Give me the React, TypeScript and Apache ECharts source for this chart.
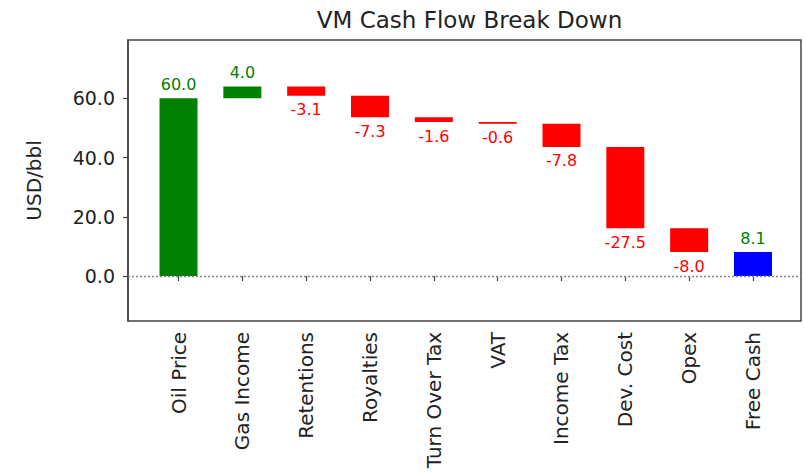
import React, { useEffect, useRef } from "react";
import * as echarts from "echarts";

const categories = [
  "Oil Price",
  "Gas Income",
  "Retentions",
  "Royalties",
  "Turn Over Tax",
  "VAT",
  "Income Tax",
  "Dev. Cost",
  "Opex",
  "Free Cash",
];
// first = starting value, middle = changes, last = resulting total
const values = [60.0, 4.0, -3.1, -7.3, -1.6, -0.6, -7.8, -27.5, -8.0, 8.1];
const yTicks = [0, 20, 40, 60];
const yMin = -15.2;
const yMax = 79.7;

const FONT = "DejaVu Sans";
const GREEN = "#008000";
const RED = "#ff0000";
const BLUE = "#0000ff";

export default function App() {
  const ref = useRef<HTMLDivElement>(null);

  useEffect(() => {
    if (!ref.current) return;
    const chart = echarts.init(ref.current, null, { renderer: "svg" });

    const bases: number[] = [];
    const heights: any[] = [];
    let running = 0;
    values.forEach((v, i) => {
      const isLast = i === values.length - 1;
      let base: number;
      let color: string;
      if (i === 0) {
        base = 0;
        running = v;
        color = GREEN;
      } else if (isLast) {
        base = 0;
        color = BLUE;
      } else if (v >= 0) {
        base = running;
        running += v;
        color = GREEN;
      } else {
        running += v;
        base = running;
        color = RED;
      }
      bases.push(base);
      const positive = v >= 0;
      heights.push({
        value: Math.abs(v),
        itemStyle: { color },
        label: {
          show: true,
          position: positive ? "top" : "bottom",
          distance: 6,
          color: positive ? GREEN : RED,
          fontSize: 16,
          fontFamily: FONT,
          formatter: () => v.toFixed(1),
        },
      });
    });

    const option: any = {
      animation: false,
      backgroundColor: "#ffffff",
      title: {
        text: "VM Cash Flow Break Down",
        left: 464.5,
        top: 3,
        textAlign: "center",
        textStyle: {
          fontFamily: FONT,
          fontSize: 23,
          fontWeight: "normal",
          color: "#222",
        },
      },
      grid: [
        {
          left: 128,
          right: 4,
          top: 40,
          bottom: 154,
          show: true,
          borderColor: "#444",
          borderWidth: 1.5,
          backgroundColor: "transparent",
        },
        {
          left: 146.6,
          width: 638.3,
          top: 40,
          bottom: 154,
        },
      ],
      xAxis: [
        { type: "value", gridIndex: 0, min: 0, max: 1, show: false },
        {
          type: "category",
          gridIndex: 1,
          data: categories,
          axisLine: { show: false },
          axisTick: {
            show: true,
            alignWithLabel: true,
            length: 5,
            lineStyle: { color: "#444", width: 1.2 },
          },
          axisLabel: {
            rotate: 90,
            margin: 11,
            fontSize: 20,
            fontFamily: FONT,
            color: "#222",
            interval: 0,
          },
          splitLine: { show: false },
        },
      ],
      yAxis: [
        {
          type: "value",
          gridIndex: 0,
          min: yMin,
          max: yMax,
          name: "USD/bbl",
          nameLocation: "middle",
          nameGap: 84,
          nameTextStyle: { fontFamily: FONT, fontSize: 20, color: "#222" },
          axisLine: { show: true, lineStyle: { color: "#444", width: 1.5 } },
          axisTick: {
            show: true,
            length: 5,
            customValues: yTicks,
            lineStyle: { color: "#444", width: 1.2 },
          },
          axisLabel: {
            customValues: yTicks,
            margin: 13,
            fontSize: 19,
            fontFamily: FONT,
            color: "#222",
            formatter: (val: number) => val.toFixed(1),
          },
          splitLine: { show: false },
        },
        {
          type: "value",
          gridIndex: 1,
          min: yMin,
          max: yMax,
          show: false,
          splitLine: { show: false },
        },
      ],
      series: [
        {
          type: "line",
          xAxisIndex: 0,
          yAxisIndex: 0,
          data: [],
          silent: true,
          markLine: {
            silent: true,
            symbol: "none",
            label: { show: false },
            lineStyle: { color: "#888", type: [2, 2], width: 1.3 },
            data: [{ yAxis: 0 }],
          },
        },
        {
          type: "bar",
          xAxisIndex: 1,
          yAxisIndex: 1,
          stack: "w",
          barWidth: 38,
          itemStyle: { color: "transparent" },
          data: bases,
          silent: true,
        },
        {
          type: "bar",
          xAxisIndex: 1,
          yAxisIndex: 1,
          stack: "w",
          barWidth: 38,
          data: heights,
        },
      ],
    };

    chart.setOption(option);
    return () => chart.dispose();
  }, []);

  return (
    <div
      ref={ref}
      style={{ position: "fixed", left: 0, top: 0, width: 805, height: 475 }}
    />
  );
}
